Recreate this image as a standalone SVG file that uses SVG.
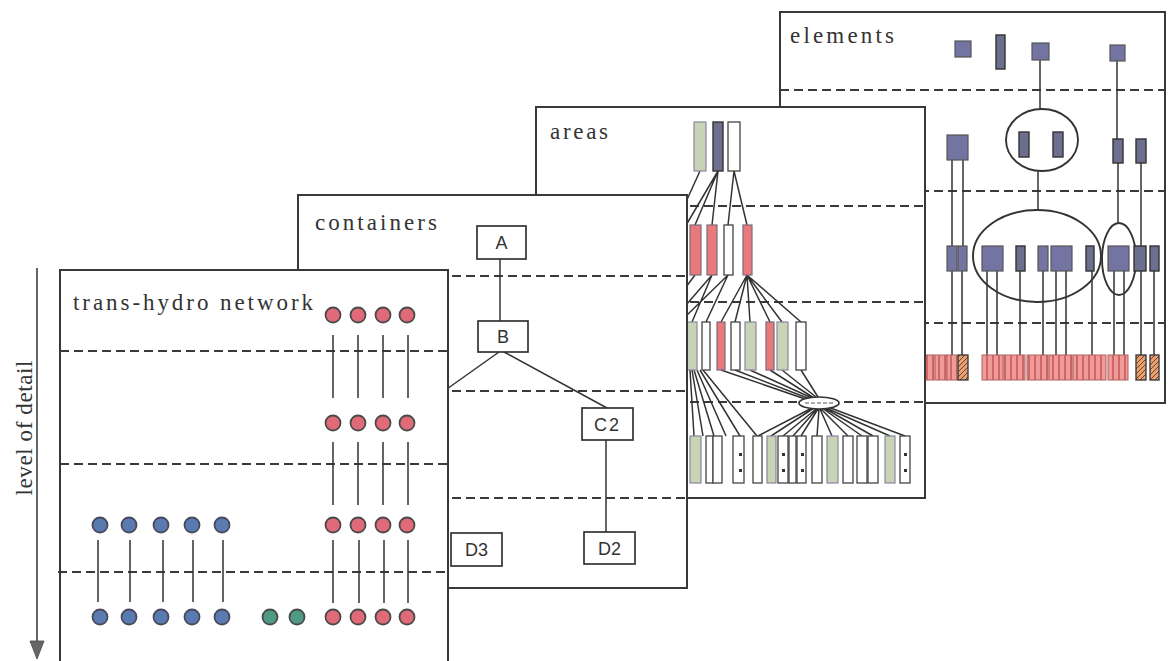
<svg xmlns="http://www.w3.org/2000/svg" width="1168" height="661" viewBox="0 0 1168 661">
<defs>
<pattern id="stripe" width="6" height="25" patternUnits="userSpaceOnUse">
<rect width="6" height="25" fill="#f09a9a"/>
<line x1="3" y1="0" x2="3" y2="25" stroke="#c85a5a" stroke-width="1.6"/>
</pattern>
<pattern id="hatch" width="5" height="5" patternUnits="userSpaceOnUse">
<rect width="5" height="5" fill="#e8a070"/>
<path d="M0 5 L5 0" stroke="#704030" stroke-width="1"/>
</pattern>
</defs>
<style>
.frame{fill:#fff;stroke:#383838;stroke-width:2}
.dash{stroke:#3a3a3a;stroke-width:1.8;stroke-dasharray:9 5;fill:none}
.ln{stroke:#333;stroke-width:1.5;fill:none}
.title{font-family:"Liberation Serif","Times New Roman",serif;font-size:23px;fill:#333}
.lbl{font-family:"Liberation Sans",Arial,sans-serif;font-size:18px;fill:#333;text-anchor:middle}
.box{fill:#fff;stroke:#333;stroke-width:1.7}
.pur{fill:#7474a2;stroke:#555;stroke-width:1.2}
.purd{fill:#6d6f8e;stroke:#333;stroke-width:1.4}
.red{fill:#e87a7e;stroke:#7a6a78;stroke-width:1.2}
.grn{fill:#c9d3b6;stroke:#8888a0;stroke-width:1.2}
.wht{fill:#fff;stroke:#444;stroke-width:1.3}
.str{fill:url(#stripe);stroke:#b06060;stroke-width:1}
.hat{fill:url(#hatch);stroke:#333;stroke-width:1.3}
.rc{fill:#e06a78;stroke:#4a4a4a;stroke-width:1.8}
.bc{fill:#5a7ab2;stroke:#4a4a5a;stroke-width:1.8}
.gc{fill:#4f9a84;stroke:#4a4a4a;stroke-width:1.8}
.dot{fill:#333}
.ell{fill:none;stroke:#333;stroke-width:1.9}
</style>

<!-- level of detail axis -->
<g id="axis">
<line x1="37" y1="268" x2="37" y2="643" stroke="#555" stroke-width="1.8"/>
<polygon points="30,641 44,641 37,659" fill="#666" stroke="#444" stroke-width="0.8"/>
<text class="title" transform="translate(32,428) rotate(-90)" text-anchor="middle" fill="#444" textLength="135" lengthAdjust="spacing">level of detail</text>
</g>

<!-- ELEMENTS PANEL -->
<g id="elements">
<rect class="frame" x="780" y="12" width="385" height="391"/>
<text class="title" x="790" y="43" textLength="104" lengthAdjust="spacing">elements</text>
<line class="dash" x1="780" y1="90" x2="1165" y2="90"/>
<line class="dash" x1="780" y1="191" x2="1165" y2="191"/>
<line class="dash" x1="780" y1="323" x2="1165" y2="323"/>
<g id="elements-connectors">
<line class="ln" x1="1040" y1="60" x2="1040" y2="109"/>
<line class="ln" x1="1038" y1="171" x2="1038" y2="210"/>
<line class="ln" x1="1117" y1="61" x2="1117" y2="139"/>
<line class="ln" x1="1118" y1="163" x2="1118" y2="223"/>
<line class="ln" x1="1141" y1="163" x2="1141" y2="246"/>
<line class="ln" x1="952" y1="160" x2="952" y2="246"/>
<line class="ln" x1="963" y1="160" x2="963" y2="246"/>
<path class="ln" d="M952 271V355M962 271V355M987 271V355M997 271V355M1020 271V355M1043 271V355M1056 271V355M1066 271V355M1092 271V355M1114 271V355M1124 271V355M1141 271V355M1154 271V355"/>
<ellipse class="ell" cx="1042" cy="140" rx="36" ry="31"/>
<ellipse class="ell" cx="1037" cy="256" rx="64" ry="46"/>
<ellipse class="ell" cx="1119" cy="259" rx="17" ry="36"/>
</g>
<g id="elements-nodes">
<rect class="pur" x="955" y="41" width="16" height="16"/>
<rect class="purd" x="996" y="35" width="9" height="34"/>
<rect class="pur" x="1032" y="43" width="17" height="17"/>
<rect class="pur" x="1110" y="45" width="15" height="16"/>
<rect class="purd" x="1019" y="132" width="10" height="25"/>
<rect class="purd" x="1053" y="132" width="10" height="25"/>
<rect class="pur" x="947" y="135" width="21" height="25"/>
<rect class="purd" x="1113" y="139" width="10" height="24"/>
<rect class="purd" x="1136" y="139" width="10" height="24"/>
<rect class="pur" x="947" y="246" width="10" height="25"/>
<rect class="pur" x="958" y="246" width="9" height="25"/>
<rect class="pur" x="982" y="246" width="21" height="25"/>
<rect class="purd" x="1016" y="246" width="9" height="25"/>
<rect class="pur" x="1038" y="246" width="10" height="25"/>
<rect class="pur" x="1051" y="246" width="21" height="25"/>
<rect class="purd" x="1086" y="246" width="8" height="25"/>
<rect class="pur" x="1108" y="246" width="21" height="25"/>
<rect class="purd" x="1134" y="246" width="12" height="25"/>
<rect class="purd" x="1150" y="246" width="9" height="25"/>
<rect class="str" x="925" y="355" width="9" height="25"/>
<rect class="str" x="935" y="355" width="12" height="25"/>
<rect class="str" x="947" y="355" width="10" height="25"/>
<rect class="hat" x="958" y="355" width="10" height="25"/>
<rect class="str" x="982" y="355" width="21" height="25"/>
<rect class="str" x="1004" y="355" width="21" height="25"/>
<rect class="str" x="1027" y="355" width="21" height="25"/>
<rect class="str" x="1049" y="355" width="23" height="25"/>
<rect class="str" x="1073" y="355" width="33" height="25"/>
<rect class="str" x="1108" y="355" width="20" height="25"/>
<rect class="hat" x="1136" y="355" width="10" height="25"/>
<rect class="hat" x="1150" y="355" width="9" height="25"/>
</g>
</g>

<!-- AREAS PANEL -->
<g id="areas">
<rect class="frame" x="536" y="107" width="389" height="391"/>
<text class="title" x="550" y="139" textLength="58" lengthAdjust="spacing">areas</text>
<line class="dash" x1="536" y1="206" x2="925" y2="206"/>
<line class="dash" x1="536" y1="302" x2="925" y2="302"/>
<line class="dash" x1="536" y1="402" x2="925" y2="402"/>
<g id="areas-connectors">
<path class="ln" d="M700 171L680 215M718 171L695 225M718 171L712 225M734 171L728 225M734 171L747 225M718 171L682 232"/>
<path class="ln" d="M695 275L680 295M712 275L680 312M712 275L692 322M728 275L706 322M728 275L684 318M747 275L721 322M747 275L735 322M747 275L750 322M747 275L770 322M747 275L782 322M747 275L801 322"/>
<path class="ln" d="M690 370L694 436M692 370L703 436M694 370L714 436M697 370L726 436M700 370L740 436M703 370L757 436"/>
<path class="ln" d="M721 370L808 400M735 370L810 399M750 370L812 398M770 370L814 398M782 370L816 397M801 370L818 397"/>
<path class="ln" d="M812 408L758 436M814 408L771 436M816 409L783 436M817 409L793 436M818 409L801 436M819 409L817 436M820 409L832 436M821 409L848 436M822 408L862 436M824 408L873 436M826 408L890 436M828 407L905 436"/>
<ellipse cx="819" cy="403" rx="20" ry="6" fill="#fff" stroke="#333" stroke-width="1.7"/>
<line x1="805" y1="403" x2="833" y2="403" stroke="#555" stroke-width="1" stroke-dasharray="4 2"/>
</g>
<g id="areas-nodes">
<rect class="grn" x="694" y="122" width="12" height="49"/>
<rect class="purd" x="713" y="122" width="10" height="49"/>
<rect class="wht" x="728" y="122" width="12" height="49"/>
<rect class="red" x="690" y="225" width="11" height="50"/>
<rect class="red" x="707" y="225" width="10" height="50"/>
<rect class="wht" x="724" y="225" width="9" height="50"/>
<rect class="red" x="743" y="225" width="9" height="50"/>
<rect class="grn" x="687" y="322" width="10" height="48"/>
<rect class="wht" x="702" y="322" width="8" height="48"/>
<rect class="red" x="717" y="322" width="8" height="48"/>
<rect class="wht" x="731" y="322" width="9" height="48"/>
<rect class="grn" x="745" y="322" width="11" height="48"/>
<rect class="red" x="766" y="322" width="8" height="48"/>
<rect class="grn" x="777" y="322" width="11" height="48"/>
<rect class="wht" x="796" y="322" width="10" height="48"/>
<rect class="grn" x="690" y="436" width="11" height="47"/>
<rect class="wht" x="706" y="436" width="7" height="47"/>
<rect class="wht" x="713" y="436" width="9" height="47"/>
<rect class="wht" x="733" y="436" width="11" height="47"/>
<rect class="wht" x="753" y="436" width="9" height="47"/>
<rect class="grn" x="767" y="436" width="9" height="47"/>
<rect class="wht" x="778" y="436" width="10" height="47"/>
<rect class="wht" x="789" y="436" width="7" height="47"/>
<rect class="wht" x="797" y="436" width="9" height="47"/>
<rect class="wht" x="812" y="436" width="10" height="47"/>
<rect class="grn" x="827" y="436" width="11" height="47"/>
<rect class="wht" x="843" y="436" width="10" height="47"/>
<rect class="wht" x="857" y="436" width="10" height="47"/>
<rect class="wht" x="868" y="436" width="10" height="47"/>
<rect class="grn" x="885" y="436" width="10" height="47"/>
<rect class="wht" x="900" y="436" width="10" height="47"/>
<path class="dot" d="M739 453h3v3h-3zM739 469h3v3h-3zM782 453h3v3h-3zM782 469h3v3h-3zM801 453h3v3h-3zM801 469h3v3h-3zM904 453h3v3h-3zM904 469h3v3h-3z"/>
</g>
</g>

<!-- CONTAINERS PANEL -->
<g id="containers">
<rect class="frame" x="298" y="195" width="389" height="393"/>
<text class="title" x="315" y="230" textLength="122" lengthAdjust="spacing">containers</text>
<line class="dash" x1="298" y1="276" x2="687" y2="276"/>
<line class="dash" x1="298" y1="391" x2="687" y2="391"/>
<line class="dash" x1="298" y1="498" x2="687" y2="498"/>
<g id="containers-connectors">
<line class="ln" x1="500" y1="259" x2="500" y2="321"/>
<line class="ln" x1="499" y1="352" x2="430" y2="401"/>
<line class="ln" x1="504" y1="352" x2="607" y2="408"/>
<line class="ln" x1="606" y1="440" x2="606" y2="532"/>
</g>
<g id="node-A"><rect class="box" x="477" y="226" width="49" height="33"/><text class="lbl" x="501.5" y="249">A</text></g>
<g id="node-B"><rect class="box" x="478" y="321" width="50" height="31"/><text class="lbl" x="503" y="343">B</text></g>
<g id="node-C2"><rect class="box" x="582" y="408" width="51" height="32"/><text class="lbl" x="607.5" y="431" letter-spacing="2">C2</text></g>
<g id="node-D2"><rect class="box" x="584" y="532" width="51" height="32"/><text class="lbl" x="609.5" y="555">D2</text></g>
<g id="node-D3"><rect class="box" x="451" y="533" width="51" height="33"/><text class="lbl" x="476.5" y="556">D3</text></g>
</g>

<!-- TRANS-HYDRO NETWORK PANEL -->
<g id="trans-hydro">
<rect class="frame" x="60" y="270" width="388" height="400"/>
<text class="title" x="73" y="310" textLength="240" lengthAdjust="spacing">trans-hydro network</text>
<line class="dash" x1="60" y1="351" x2="448" y2="351"/>
<line class="dash" x1="60" y1="464" x2="448" y2="464"/>
<line class="dash" x1="58" y1="572" x2="448" y2="572"/>
<g id="network-connectors">
<path class="ln" d="M333 335V398M358 335V398M383 335V398M408 335V398"/>
<path class="ln" d="M333 442V505M358 442V505M383 442V505M408 442V505"/>
<path class="ln" d="M333 540V603M359 540V603M384 540V603M408 540V603"/>
<path class="ln" d="M98 540V602M130 540V602M163 540V602M193 540V602M223 540V602"/>
</g>
<g id="network-nodes">
<circle class="rc" cx="333" cy="315" r="7.5"/><circle class="rc" cx="358" cy="315" r="7.5"/><circle class="rc" cx="383" cy="315" r="7.5"/><circle class="rc" cx="407" cy="315" r="7.5"/>
<circle class="rc" cx="333" cy="423" r="7.5"/><circle class="rc" cx="358" cy="423" r="7.5"/><circle class="rc" cx="383" cy="423" r="7.5"/><circle class="rc" cx="407" cy="423" r="7.5"/>
<circle class="rc" cx="333" cy="525" r="7.5"/><circle class="rc" cx="358" cy="525" r="7.5"/><circle class="rc" cx="383" cy="525" r="7.5"/><circle class="rc" cx="407" cy="525" r="7.5"/>
<circle class="rc" cx="333" cy="617" r="7.5"/><circle class="rc" cx="358" cy="617" r="7.5"/><circle class="rc" cx="383" cy="617" r="7.5"/><circle class="rc" cx="407" cy="617" r="7.5"/>
<circle class="bc" cx="100" cy="525" r="7.5"/><circle class="bc" cx="129" cy="525" r="7.5"/><circle class="bc" cx="161" cy="525" r="7.5"/><circle class="bc" cx="192" cy="525" r="7.5"/><circle class="bc" cx="222" cy="525" r="7.5"/>
<circle class="bc" cx="100" cy="617" r="7.5"/><circle class="bc" cx="129" cy="617" r="7.5"/><circle class="bc" cx="161" cy="617" r="7.5"/><circle class="bc" cx="192" cy="617" r="7.5"/><circle class="bc" cx="222" cy="617" r="7.5"/>
<circle class="gc" cx="270" cy="617" r="7.5"/><circle class="gc" cx="297" cy="617" r="7.5"/>
</g>
</g>
</svg>
